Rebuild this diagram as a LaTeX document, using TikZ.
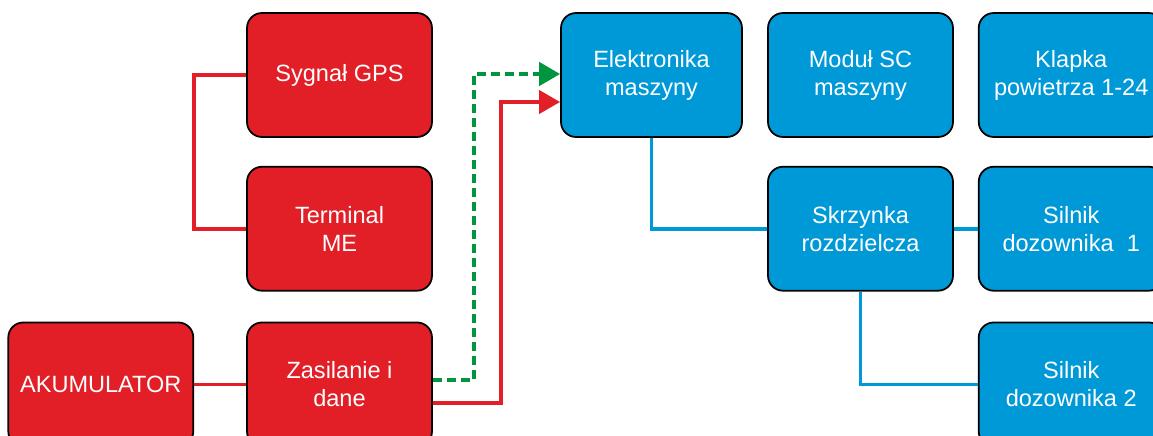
\documentclass[tikz,border=0pt]{standalone}
\usepackage{fontspec}
\setmainfont{Liberation Sans}
\usetikzlibrary{arrows.meta,positioning}
\definecolor{boxred}{RGB}{226,30,38}
\definecolor{boxblue}{RGB}{0,153,216}
\definecolor{linegreen}{RGB}{0,150,64}

\begin{document}
\begin{tikzpicture}[x=0.02cm,y=-0.02cm,
	box/.style={draw=black,line width=1pt,rounded corners=0.3cm,minimum width=3.7cm,minimum height=2.48cm,align=center,text=white,font=\fontsize{13.4}{15.9}\selectfont},
	redbox/.style={box,fill=boxred},
	bluebox/.style={box,fill=boxblue},
	redline/.style={draw=boxred,line width=2.2pt},
	blueline/.style={draw=boxblue,line width=2.2pt},
	greenline/.style={draw=linegreen,line width=2.6pt,dash pattern=on 0.18cm off 0.1cm},
	bigtip/.style={-{Triangle[length=0.42cm,width=0.46cm]}}]
	\useasboundingbox (0,0) rectangle (1153,436);
	\clip (0,0) rectangle (1153,436);
	
	% czerwone bloki
	\node[redbox] (gps) at (339.5,75) {Sygnał GPS};
	\node[redbox,below=0.56cm of gps] (term) {Terminal\\ME};
	\node[redbox,below=0.6cm of term] (zasil) {Zasilanie i\\dane};
	\node[redbox,left=1.04cm of zasil] (akum) {AKUMULATOR};
	
	% niebieskie bloki
	\node[bluebox,minimum width=3.62cm] (elek) at (651.5,75) {Elektronika\\maszyny};
	\node[bluebox] (modul) at (860.5,75) {Moduł SC\\maszyny};
	\node[bluebox,right=0.48cm of modul] (klapka) {Klapka\\powietrza 1-24};
	\node[bluebox,below=0.56cm of modul] (skrz) {Skrzynka\\rozdzielcza};
	\node[bluebox,right=0.48cm of skrz] (sil1) {Silnik\\dozownika~~1};
	\node[bluebox,below=0.6cm of sil1] (sil2) {Silnik\\dozownika 2};
	
	\draw[redline] (gps.west) -- ++(-52,0) |- (term.west);
	\draw[redline] (akum.east) -- (zasil.west);
	\draw[greenline,bigtip] (zasil.east |- 0,380) -| (474,74) -- (elek.west |- 0,74);
	\draw[redline,bigtip] (zasil.east |- 0,403) -| (501,102) -- (elek.west |- 0,102);
	
	\draw[blueline] (elek.south) |- (skrz.west);
	\draw[blueline] (skrz.east) -- (sil1.west);
	\draw[blueline] (skrz.south) |- (sil2.west);
\end{tikzpicture}
\end{document}
